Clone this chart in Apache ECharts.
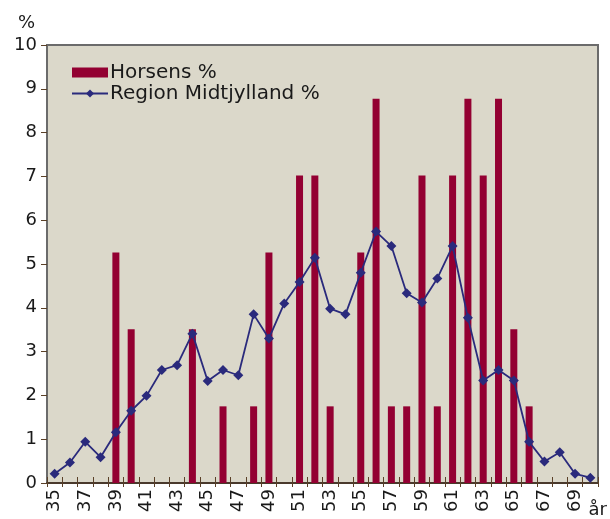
<!DOCTYPE html>
<html>
<head>
<meta charset="utf-8">
<script src="https://cdn.jsdelivr.net/npm/echarts@6/dist/echarts.min.js"></script>
<style>
  html, body { margin: 0; padding: 0; background: #fff; }
  #main { width: 610px; height: 519px; }
</style>
</head>
<body>
<div id="main"></div>
<script>
// alder 35 til 70
var ages = [];
for (var a = 35; a <= 70; a++) { ages.push(String(a)); }

// Horsens %
var horsens = [0, 0, 0, 0, 5.26, 3.51, 0, 0, 0, 3.51, 0, 1.75, 0, 1.75, 5.26, 0, 7.02, 7.02,
               1.75, 0, 5.26, 8.77, 1.75, 1.75, 7.02, 1.75, 7.02, 8.77, 7.02, 8.77, 3.51, 1.75,
               0, 0, 0, 0];
// Region Midtjylland %
var region = [0.21, 0.47, 0.94, 0.59, 1.16, 1.65, 1.99, 2.58, 2.69, 3.41, 2.33, 2.58, 2.46, 3.85,
              3.30, 4.10, 4.59, 5.14, 3.98, 3.85, 4.80, 5.74, 5.41, 4.33, 4.12, 4.67, 5.41, 3.77,
              2.34, 2.58, 2.34, 0.94, 0.49, 0.70, 0.21, 0.12];

var font = 'DejaVu Sans';

option = {
    backgroundColor: '#ffffff',
    textStyle: { fontFamily: font },
    grid: {
        left: 47,
        right: 11,
        top: 45,
        bottom: 35,
        show: true,
        backgroundColor: '#dbd8ca',
        borderColor: '#6b6b6b',
        borderWidth: 2
    },
    legend: {
        orient: 'vertical',
        left: 66,
        top: 57,
        itemWidth: 36,
        itemHeight: 10,
        itemGap: 0,
        textStyle: { fontFamily: font, fontSize: 20, lineHeight: 21, color: '#1a1a1a', padding: [0, 0, 0, -3] },
        data: [
            { name: 'Horsens %', icon: 'rect' },
            { name: 'Region Midtjylland %' }
        ]
    },
    xAxis: [{
        type: 'category',
        data: ages,
        position: 'bottom',
        name: 'år',
        nameLocation: 'end',
        nameGap: 9,
        nameTextStyle: { fontFamily: font, fontSize: 18, color: '#1a1a1a', align: 'right', verticalAlign: 'top', padding: [18, 0, 0, 0] },
        axisLine: { lineStyle: { color: '#4a3a2c', width: 2 } },
        axisTick: { show: true, interval: 0, length: 4, lineStyle: { color: '#5a4028', width: 1 } },
        axisLabel: { interval: 1, rotate: 90, margin: 6, fontFamily: font, fontSize: 18, color: '#1a1a1a' },
        splitLine: { show: false }
    }, {
        type: 'category',
        data: ages,
        position: 'bottom',
        axisLine: { show: false },
        axisTick: { show: true, inside: true, interval: 0, length: 6, lineStyle: { color: '#5a4028', width: 1 } },
        axisLabel: { show: false },
        splitLine: { show: false }
    }],
    yAxis: {
        type: 'value',
        min: 0,
        max: 10,
        interval: 1,
        name: '%',
        nameLocation: 'end',
        nameGap: 13,
        nameTextStyle: { fontFamily: font, fontSize: 18, color: '#1a1a1a', align: 'right', padding: [0, 12, 0, 0] },
        axisLine: { show: true, lineStyle: { color: '#6b6b6b', width: 2 } },
        axisTick: { show: true, length: 6, lineStyle: { color: '#5a4028', width: 1 } },
        axisLabel: { margin: 10, fontFamily: font, fontSize: 18, color: '#1a1a1a' },
        splitLine: { show: false }
    },
    series: [
        {
            name: 'Horsens %',
            type: 'bar',
            barWidth: 7,
            itemStyle: { color: '#930032' },
            data: horsens
        },
        {
            name: 'Region Midtjylland %',
            type: 'line',
            symbol: 'diamond',
            symbolSize: 10,
            itemStyle: { color: '#2a2a7c' },
            lineStyle: { color: '#2a2a7c', width: 1.8 },
            data: region
        }
    ]
};

var myChart = echarts.init(document.getElementById('main'));
myChart.setOption(option);
</script>
</body>
</html>
